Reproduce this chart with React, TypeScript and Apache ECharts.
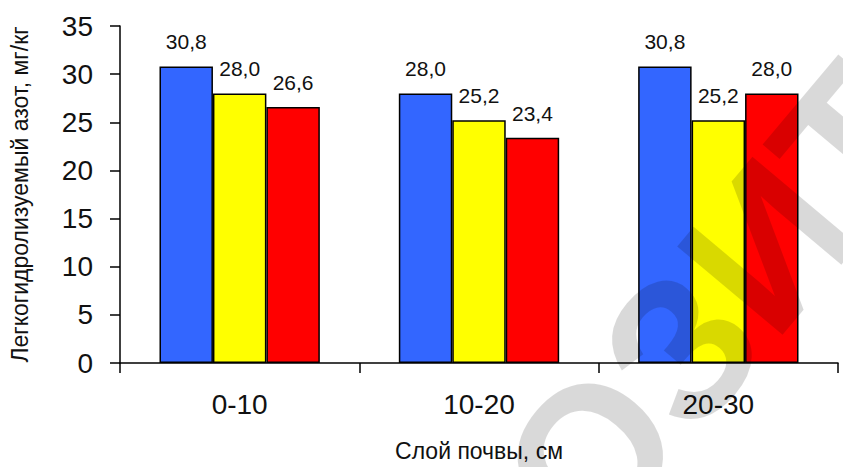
import React, { useEffect, useRef } from "react";
import * as echarts from "echarts";

const categories = ["0-10", "10-20", "20-30"];
const seriesBlue = [30.8, 28.0, 30.8];
const seriesYellow = [28.0, 25.2, 25.2];
const seriesRed = [26.6, 23.4, 28.0];
const yTicks = { min: 0, max: 35, interval: 5 };
const xName = "Слой почвы, см";
const yName = "Легкогидролизуемый азот, мг/кг";
const watermark = "ОЗИТ";

const FONT = "'Liberation Sans', Arial, sans-serif";

export default function App() {
  const ref = useRef<HTMLDivElement>(null);
  useEffect(() => {
    if (!ref.current) return;
    const chart = echarts.init(ref.current, null, { renderer: "svg" });
    const mk = (data: number[], color: string) => ({
      type: "bar",
      data,
      barGap: "0%",
      barCategoryGap: "33%",
      itemStyle: { color, borderColor: "#000", borderWidth: 1.5 },
      label: {
        show: true,
        position: "top",
        distance: 14,
        fontSize: 21,
        fontFamily: FONT,
        color: "#111",
        formatter: (p: any) => Number(p.value).toFixed(1).replace(".", ","),
      },
    });
    chart.setOption({
      animation: false,
      textStyle: { fontFamily: FONT },
      grid: { left: 117, right: 5, top: 26, bottom: 101, containLabel: false },
      xAxis: {
        type: "category",
        data: categories,
        name: xName,
        nameLocation: "middle",
        nameGap: 76,
        nameTextStyle: { fontSize: 23, color: "#111", fontFamily: FONT },
        axisLine: { lineStyle: { color: "#000", width: 1.5 } },
        axisTick: { show: true, length: 10, lineStyle: { color: "#000", width: 1.5 } },
        axisLabel: { fontSize: 28, color: "#111", margin: 27, fontFamily: FONT },
      },
      yAxis: {
        type: "value",
        min: yTicks.min,
        max: yTicks.max,
        interval: yTicks.interval,
        name: yName,
        nameLocation: "middle",
        nameGap: 89,
        nameTextStyle: { fontSize: 23, color: "#111", fontFamily: FONT },
        axisLine: { show: true, lineStyle: { color: "#000", width: 1.5 } },
        axisTick: { show: true, length: 10, lineStyle: { color: "#000", width: 1.5 } },
        axisLabel: { fontSize: 28, color: "#111", margin: 27, fontFamily: FONT },
        splitLine: { show: false },
      },
      series: [mk(seriesBlue, "#3366FF"), mk(seriesYellow, "#FFFF00"), mk(seriesRed, "#FF0000")],
      graphic: [
        {
          type: "text",
          x: 716,
          y: 306,
          rotation: (50 * Math.PI) / 180,
          z: 100,
          silent: true,
          style: {
            text: watermark,
            fontSize: 200,
            fontWeight: "bold",
            fontFamily: FONT,
            fill: "rgba(0,0,0,0.15)",
            align: "center",
            verticalAlign: "middle",
          },
        },
      ],
    });
    return () => chart.dispose();
  }, []);
  return (
    <div
      ref={ref}
      style={{ position: "fixed", left: 0, top: 0, width: 843, height: 467, background: "#fff" }}
    />
  );
}
